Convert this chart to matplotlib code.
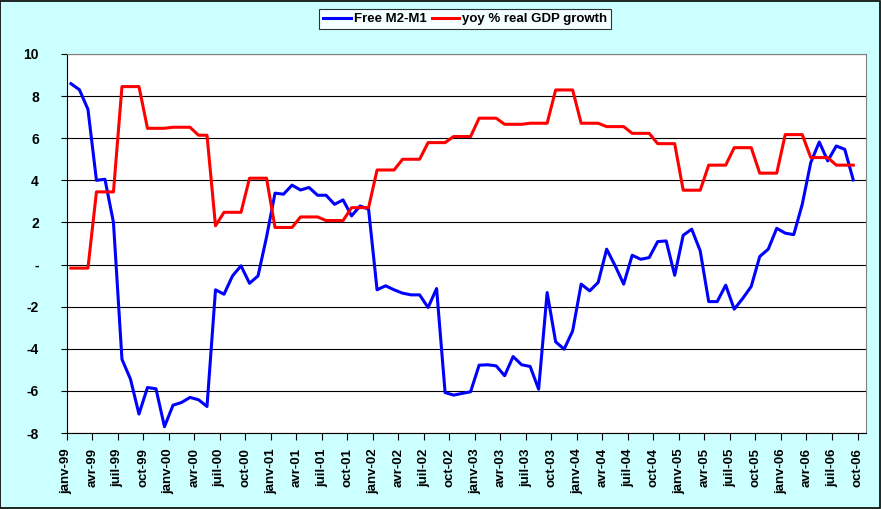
import matplotlib
matplotlib.use('Agg')
import matplotlib.pyplot as plt
from matplotlib.ticker import FixedLocator, FuncFormatter
from matplotlib.patches import Rectangle

# monthly values, janv-99 .. sept-06
free_m2_m1 = [
    8.59, 8.3, 7.37, 4.0, 4.05, 2.0, -4.5, -5.44, -7.1, -5.84, -5.9, -7.7,
    -6.68, -6.55, -6.31, -6.42, -6.74, -1.2, -1.41, -0.54, -0.06, -0.89, -0.54, 1.3,
    3.39, 3.34, 3.77, 3.54, 3.66, 3.29, 3.29, 2.86, 3.07, 2.31, 2.78, 2.63,
    -1.2, -1.01, -1.2, -1.36, -1.44, -1.44, -2.04, -1.14, -6.08, -6.2, -6.12, -6.04,
    -4.78, -4.76, -4.81, -5.28, -4.37, -4.76, -4.84, -5.92, -1.33, -3.67, -4.02, -3.15,
    -0.93, -1.25, -0.85, 0.73, -0.06, -0.93, 0.44, 0.25, 0.33, 1.09, 1.12, -0.51,
    1.39, 1.68, 0.65, -1.76, -1.76, -0.98, -2.12, -1.61, -1.04, 0.38, 0.73, 1.72,
    1.49, 1.42, 2.86, 4.84, 5.82, 4.92, 5.63, 5.47, 4.02,
]
gdp_growth = [
    -0.17, -0.17, -0.17, 3.45, 3.45, 3.45, 8.45, 8.45, 8.45, 6.47, 6.47, 6.47,
    6.52, 6.52, 6.52, 6.14, 6.14, 1.84, 2.48, 2.48, 2.48, 4.1, 4.1, 4.1,
    1.76, 1.76, 1.76, 2.26, 2.26, 2.26, 2.09, 2.09, 2.09, 2.7, 2.7, 2.7,
    4.49, 4.49, 4.49, 5.0, 5.0, 5.0, 5.79, 5.79, 5.79, 6.08, 6.08, 6.08,
    6.95, 6.95, 6.95, 6.66, 6.66, 6.66, 6.71, 6.71, 6.71, 8.29, 8.29, 8.29,
    6.71, 6.71, 6.71, 6.55, 6.55, 6.55, 6.23, 6.23, 6.23, 5.74, 5.74, 5.74,
    3.53, 3.53, 3.53, 4.72, 4.72, 4.72, 5.55, 5.55, 5.55, 4.34, 4.34, 4.34,
    6.17, 6.17, 6.17, 5.08, 5.08, 5.08, 4.72, 4.72, 4.72,
]
quarter_names = ['janv', 'avr', 'juil', 'oct']
years = ['99', '00', '01', '02', '03', '04', '05', '06']
tick_labels = ['%s-%s' % (q, y) for y in years for q in quarter_names]

bg = '#CCFFFF'
plt.rcParams['font.family'] = ['Liberation Sans', 'DejaVu Sans']
plt.rcParams['font.weight'] = 'bold'

fig = plt.figure(figsize=(8.81, 5.09), dpi=100, facecolor=bg)
ax = fig.add_axes([0.0757, 0.1493, 0.9073, 0.7447])
ax.set_facecolor('white')

xs = [i + 0.5 for i in range(len(free_m2_m1))]
ax.plot(xs, free_m2_m1, color='#0000FF', lw=2.2, label='Free M2-M1', zorder=3)
ax.plot(xs, gdp_growth, color='#FF0000', lw=2.2, label='yoy % real GDP growth', zorder=3)

ax.set_xlim(0, 94)
ax.set_ylim(-8, 10)
ax.yaxis.set_major_locator(FixedLocator(range(-8, 11, 2)))
ax.yaxis.set_major_formatter(FuncFormatter(lambda v, p: '-' if v == 0 else '%d' % v))
ax.xaxis.set_major_locator(FixedLocator(range(0, 94, 3)))
ax.set_xticklabels(tick_labels, rotation=90, fontsize=9.5, fontweight='bold')
for lab in ax.get_yticklabels():
    lab.set_fontsize(10)
    lab.set_fontweight('bold')

ax.grid(axis='y', color='black', lw=0.8, zorder=1)
ax.set_axisbelow(True)
ax.tick_params(axis='x', direction='out', length=5, width=0.8, color='black', pad=6)
ax.tick_params(axis='y', direction='out', length=4, width=0.8, color='black', pad=16)
for s in ['left', 'bottom']:
    ax.spines[s].set_color('black')
    ax.spines[s].set_linewidth(0.8)
for s in ['top', 'right']:
    ax.spines[s].set_color('#808080')
    ax.spines[s].set_linewidth(0.8)

leg = fig.legend(loc='center', bbox_to_anchor=(0.528, 0.962), ncol=2,
                 frameon=True, fancybox=False, handlelength=2.1, handletextpad=0.2,
                 columnspacing=0.4, borderpad=0.3, prop={'size': 9.5, 'weight': 'bold'})
leg.get_frame().set_edgecolor('black')
leg.get_frame().set_linewidth(0.8)

fig.patches.append(Rectangle((0.0005, 0.001), 0.998, 0.997, transform=fig.transFigure,
                             fill=False, edgecolor='black', lw=1.2))

fig.savefig('out.png', dpi=100, facecolor=bg)
